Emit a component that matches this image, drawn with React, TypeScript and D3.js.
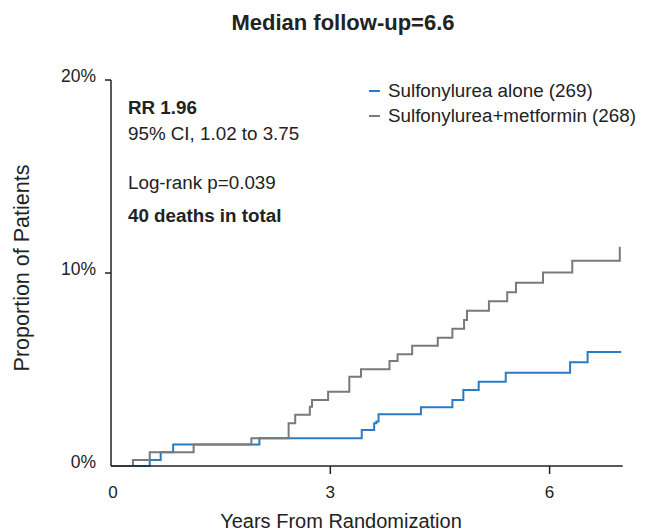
import React from "react";
import * as d3 from "d3";

const title = "Median follow-up=6.6";
const xTicks = [0, 3, 6];
const yTicks = [0, 10, 20];
const yTickLabels = ["0%", "10%", "20%"];

const aloneName = "Sulfonylurea alone (269)";
const metName = "Sulfonylurea+metformin (268)";

const aloneTimes = [0, 0.53, 0.68, 0.85, 2.03, 3.43, 3.6, 3.63, 3.66, 4.24, 4.67, 4.82, 5.03, 5.4, 6.28, 6.52, 6.98];
const alonePct = [0, 0.31, 0.71, 1.12, 1.44, 1.87, 2.21, 2.3, 2.68, 3.04, 3.42, 3.94, 4.37, 4.83, 5.37, 5.91, 5.91];

const metTimes = [0, 0.3, 0.53, 1.13, 1.92, 2.43, 2.52, 2.72, 2.75, 2.97, 3.26, 3.42, 3.81, 3.92, 4.12, 4.47, 4.67, 4.83, 4.87, 5.17, 5.42, 5.54, 5.91, 6.31, 6.96];
const metPct = [0, 0.31, 0.71, 1.12, 1.44, 2.21, 2.66, 3.07, 3.42, 3.85, 4.63, 5.01, 5.44, 5.79, 6.23, 6.65, 7.11, 7.56, 8.05, 8.53, 9.0, 9.5, 10.02, 10.64, 11.36];

const annotations = [
  { text: "RR 1.96", bold: true },
  { text: "95% CI, 1.02 to 3.75", bold: false },
  { text: "Log-rank p=0.039", bold: false },
  { text: "40 deaths in total", bold: true },
];

const BLUE = "#2b7bc4";
const GREY = "#7a7a7a";
const TEXT = "#222";
const FONT = "Liberation Sans, Arial, sans-serif";

export default function App() {
  const W = 649, H = 531;
  const x = d3.scaleLinear().domain([0, 7]).range([111, 622.7]);
  const y = d3.scaleLinear().domain([0, 20]).range([466, 80]);
  const line = d3
    .line<[number, number]>()
    .x((d) => x(d[0]))
    .y((d) => y(d[1]))
    .curve(d3.curveStepAfter);
  const alone: [number, number][] = aloneTimes.map((t, i) => [t, alonePct[i]]);
  const met: [number, number][] = metTimes.map((t, i) => [t, metPct[i]]);
  const annY = [114, 140, 189, 222];

  return (
    <svg width={W} height={H} style={{ position: "absolute", left: 0, top: 0, background: "#fff" }} fontFamily={FONT}>
      <rect width={W} height={H} fill="#fff" />
      <text x={343} y={30} textAnchor="middle" fontWeight="bold" fontSize={22} fill={TEXT}>
        {title}
      </text>
      {/* data */}
      <path d={line(alone) || ""} fill="none" stroke={BLUE} strokeWidth={2} />
      <path d={line(met) || ""} fill="none" stroke={GREY} strokeWidth={2} />
      {/* axes */}
      <line x1={x(0)} x2={x(0)} y1={y(20)} y2={y(0)} stroke={TEXT} strokeWidth={1.5} />
      <line x1={x(0)} x2={x(7)} y1={y(0)} y2={y(0)} stroke={TEXT} strokeWidth={1.5} />
      {yTicks.map((v, i) => (
        <g key={"y" + v}>
          {v > 0 && <line x1={x(0) - 6} x2={x(0)} y1={y(v)} y2={y(v)} stroke={TEXT} strokeWidth={1.5} />}
          <text x={x(0) - 15} y={y(v) - 3} textAnchor="end" dominantBaseline="middle" fontSize={17.5} fill={TEXT}>
            {yTickLabels[i]}
          </text>
        </g>
      ))}
      {xTicks.map((v) => (
        <g key={"x" + v}>
          {v > 0 && <line x1={x(v)} x2={x(v)} y1={y(0)} y2={y(0) + 8} stroke={TEXT} strokeWidth={1.5} />}
          <text x={x(v) + (v === 0 ? 2 : 0)} y={498} textAnchor="middle" fontSize={17} fill={TEXT}>
            {v}
          </text>
        </g>
      ))}
      <text x={341} y={528} textAnchor="middle" fontSize={20} fill={TEXT}>
        Years From Randomization
      </text>
      <text transform="translate(29,268) rotate(-90)" textAnchor="middle" fontSize={21.5} fill={TEXT}>
        Proportion of Patients
      </text>
      {annotations.map((a, i) => (
        <text key={a.text} x={128} y={annY[i]} fontSize={18.8} fontWeight={a.bold ? "bold" : "normal"} fill={TEXT}>
          {a.text}
        </text>
      ))}
      {/* legend */}
      {[
        { name: aloneName, color: BLUE },
        { name: metName, color: GREY },
      ].map((l, i) => (
        <g key={l.name}>
          <line x1={369} x2={380} y1={91 + i * 25} y2={91 + i * 25} stroke={l.color} strokeWidth={2} />
          <text x={388} y={92 + i * 25} dominantBaseline="middle" fontSize={18.8} fill={TEXT}>
            {l.name}
          </text>
        </g>
      ))}
    </svg>
  );
}
